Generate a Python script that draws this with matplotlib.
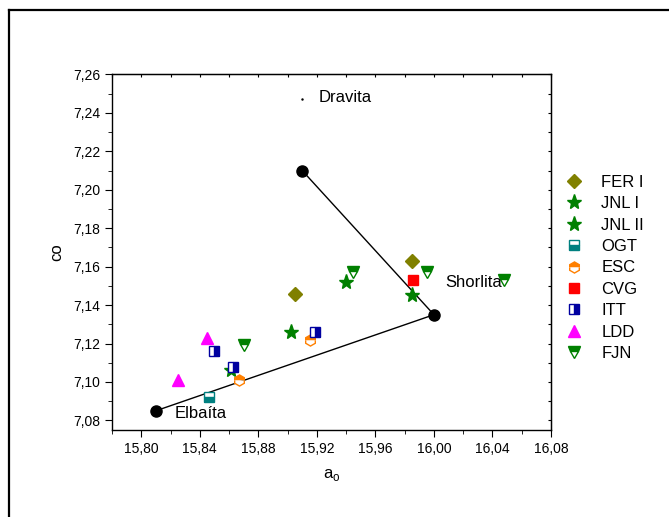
import matplotlib
matplotlib.use('Agg')
import matplotlib.pyplot as plt
from matplotlib.lines import Line2D
from matplotlib.ticker import MultipleLocator, FuncFormatter

plt.rcParams['font.family'] = ['Liberation Sans', 'DejaVu Sans']

# end members (a0, c0)
end_x = [15.81, 16.00, 15.91]
end_y = [7.085, 7.135, 7.210]
dravita_x, dravita_y = 15.91, 7.247

fer_x = [15.905, 15.985]
fer_y = [7.146, 7.163]
jnl1_x = [15.861, 15.940]
jnl1_y = [7.106, 7.152]
jnl2_x = [15.902, 15.985]
jnl2_y = [7.126, 7.145]
ogt_x = [15.846]
ogt_y = [7.092]
esc_x = [15.867, 15.915]
esc_y = [7.101, 7.122]
cvg_x = [15.986]
cvg_y = [7.153]
itt_x = [15.850, 15.863, 15.919]
itt_y = [7.116, 7.108, 7.126]
ldd_x = [15.845, 15.825]
ldd_y = [7.123, 7.101]
fjn_x = [15.870, 15.945, 15.995, 16.048]
fjn_y = [7.119, 7.157, 7.157, 7.153]

fig = plt.figure(figsize=(6.69, 5.17), dpi=100)
ax = fig.add_axes([0.1674, 0.1683, 0.6562, 0.6876])

# outer frame (left and top only visible)
fig.add_artist(Line2D([0.0135, 0.0135], [0.0, 0.981], transform=fig.transFigure, color='black', lw=1.6))
fig.add_artist(Line2D([0.0135, 1.0], [0.981, 0.981], transform=fig.transFigure, color='black', lw=1.6))

# tie lines
ax.plot([end_x[0], end_x[1]], [end_y[0], end_y[1]], color='black', lw=1)
ax.plot([end_x[1], end_x[2]], [end_y[1], end_y[2]], color='black', lw=1)
ax.plot(end_x, end_y, 'o', color='black', ms=8, zorder=5)
ax.plot([dravita_x], [dravita_y], '.', color='black', ms=1.5)

ax.text(15.823, 7.0835, 'Elbaíta', fontsize=12, va='center')
ax.text(16.008, 7.152, 'Shorlita', fontsize=12, va='center')
ax.text(15.921, 7.2478, 'Dravita', fontsize=12, va='center')

ms = 8
h = []
h.append(ax.plot(fer_x, fer_y, 'D', color='#808000', ms=7, ls='none', label='FER I')[0])
h.append(ax.plot(jnl1_x, jnl1_y, '*', color='#008000', ms=11, ls='none', label='JNL I')[0])
h.append(ax.plot(jnl2_x, jnl2_y, '*', color='#008000', ms=11, ls='none', label='JNL II')[0])
h.append(ax.plot(ogt_x, ogt_y, 's', color='#008080', mfc='#008080', mfcalt='white', fillstyle='bottom',
                 ms=7, mew=1, ls='none', label='OGT')[0])
h.append(ax.plot(esc_x, esc_y, 'h', color='#FF8000', mfc='#FF8000', mfcalt='white', fillstyle='top',
                 ms=ms, mew=1, ls='none', label='ESC')[0])
h.append(ax.plot(cvg_x, cvg_y, 's', color='#FF0000', ms=7, ls='none', label='CVG')[0])
h.append(ax.plot(itt_x, itt_y, 's', color='#0000A0', mfc='#0000A0', mfcalt='white', fillstyle='right',
                 ms=7, mew=1, ls='none', label='ITT')[0])
h.append(ax.plot(ldd_x, ldd_y, '^', color='#FF00FF', ms=9, ls='none', label='LDD')[0])
h.append(ax.plot(fjn_x, fjn_y, 'v', color='#008000', mfc='#008000', mfcalt='white', fillstyle='top',
                 ms=9, mew=1, ls='none', label='FJN')[0])

ax.set_xlim(15.78, 16.08)
ax.set_ylim(7.075, 7.26)
ax.xaxis.set_major_locator(MultipleLocator(0.04))
ax.xaxis.set_minor_locator(MultipleLocator(0.02))
ax.yaxis.set_major_locator(MultipleLocator(0.02))
ax.yaxis.set_minor_locator(MultipleLocator(0.01))
ax.xaxis.set_major_formatter(FuncFormatter(lambda v, p: f'{v:.2f}'.replace('.', ',')))
ax.yaxis.set_major_formatter(FuncFormatter(lambda v, p: f'{v:.2f}'.replace('.', ',')))
ax.tick_params(which='major', direction='out', length=5, labelsize=10, top=False, right=False)
ax.tick_params(which='minor', direction='out', length=3, top=False, right=False)

# small inward ticks on top and right
sec_x = ax.secondary_xaxis('top')
sec_x.xaxis.set_major_locator(MultipleLocator(0.02))
sec_x.tick_params(direction='in', length=2, labelsize=0, labeltop=False)
sec_y = ax.secondary_yaxis('right')
sec_y.yaxis.set_major_locator(MultipleLocator(0.01))
sec_y.tick_params(direction='in', length=2, labelsize=0, labelright=False)

for s in ax.spines.values():
    s.set_linewidth(1)

ax.set_xlabel('a$_\\mathregular{o}$', fontsize=12, labelpad=8)
ax.set_ylabel('co', fontsize=12, labelpad=6)

fig.legend(handles=h, loc='upper left', bbox_to_anchor=(0.8164, 0.691), frameon=False,
           fontsize=12, handletextpad=0.9, labelspacing=0.385, handlelength=1.5)

fig.savefig('out.png', dpi=100)
